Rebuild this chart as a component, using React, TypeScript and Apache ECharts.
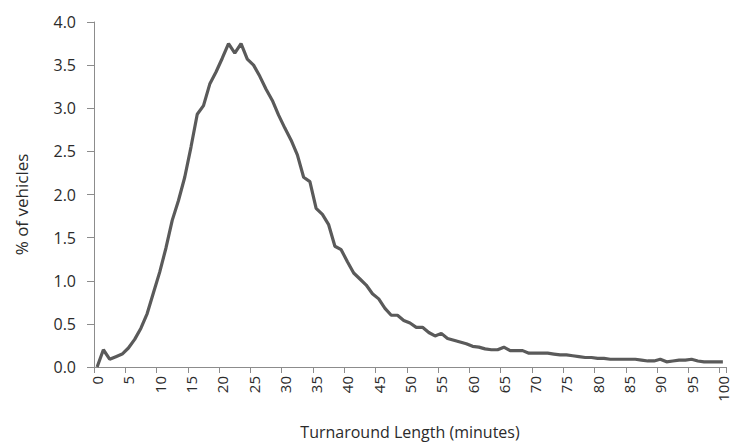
import React, { useEffect, useRef } from "react";
import * as echarts from "echarts";

const minutes: string[] = Array.from({ length: 101 }, (_, i) => String(i));

const vehiclesPct: number[] = [
  0.0, 0.2, 0.09, 0.12, 0.15, 0.22, 0.32, 0.45, 0.62, 0.86,
  1.1, 1.38, 1.7, 1.93, 2.2, 2.55, 2.93, 3.03, 3.28, 3.42,
  3.58, 3.75, 3.64, 3.75, 3.57, 3.5, 3.37, 3.22, 3.09, 2.92,
  2.77, 2.63, 2.46, 2.2, 2.15, 1.84, 1.77, 1.65, 1.4, 1.36,
  1.22, 1.09, 1.02, 0.95, 0.85, 0.79, 0.68, 0.6, 0.6, 0.54,
  0.51, 0.46, 0.46, 0.4, 0.36, 0.39, 0.33, 0.31, 0.29, 0.27,
  0.24, 0.23, 0.21, 0.2, 0.2, 0.23, 0.19, 0.19, 0.19, 0.16,
  0.16, 0.16, 0.16, 0.15, 0.14, 0.14, 0.13, 0.12, 0.11, 0.11,
  0.1, 0.1, 0.09, 0.09, 0.09, 0.09, 0.09, 0.08, 0.07, 0.07,
  0.09, 0.06, 0.07, 0.08, 0.08, 0.09, 0.07, 0.06, 0.06, 0.06,
  0.06,
];

const xTitle = "Turnaround Length (minutes)";
const yTitle = "% of vehicles";

export default function App() {
  const ref = useRef<HTMLDivElement>(null);
  useEffect(() => {
    if (!ref.current) return;
    const chart = echarts.init(ref.current, null, { renderer: "svg" });
    const font = "Open Sans, Lato, sans-serif";
    const axisColor = "#8c8c8c";
    const textColor = "#2b2b2b";
    chart.setOption({
      animation: false,
      backgroundColor: "#ffffff",
      grid: { left: 94, right: 7, top: 22, bottom: 78, containLabel: false },
      xAxis: {
        type: "category",
        data: minutes,
        boundaryGap: true,
        name: xTitle,
        nameLocation: "middle",
        nameGap: 57,
        nameTextStyle: { fontFamily: font, fontSize: 16, color: textColor },
        axisLine: { lineStyle: { color: axisColor, width: 1 } },
        axisTick: { show: true, interval: 4, length: 6, lineStyle: { color: axisColor } },
        axisLabel: {
          interval: 4,
          rotate: 90,
          margin: 9,
          fontFamily: font,
          fontSize: 15,
          lineHeight: 15,
          color: textColor,
        },
        splitLine: { show: false },
      },
      yAxis: {
        type: "value",
        min: 0,
        max: 4,
        interval: 0.5,
        name: yTitle,
        nameLocation: "middle",
        nameGap: 64,
        nameTextStyle: {
          fontFamily: font,
          fontSize: 17,
          color: textColor,
          padding: [0, 20, 0, 0],
        },
        axisLine: { show: true, lineStyle: { color: axisColor, width: 1 } },
        axisTick: { show: true, length: 7, lineStyle: { color: axisColor } },
        axisLabel: {
          margin: 18,
          fontFamily: font,
          fontSize: 16,
          color: textColor,
          formatter: (v: number) => v.toFixed(1),
        },
        splitLine: { show: false },
      },
      series: [
        {
          type: "line",
          data: vehiclesPct,
          symbol: "none",
          smooth: false,
          lineStyle: { color: "#5a5a5a", width: 3.2 },
        },
      ],
    });
    return () => chart.dispose();
  }, []);
  return (
    <div
      ref={ref}
      style={{ position: "fixed", left: 0, top: 0, width: 733, height: 445 }}
    />
  );
}
